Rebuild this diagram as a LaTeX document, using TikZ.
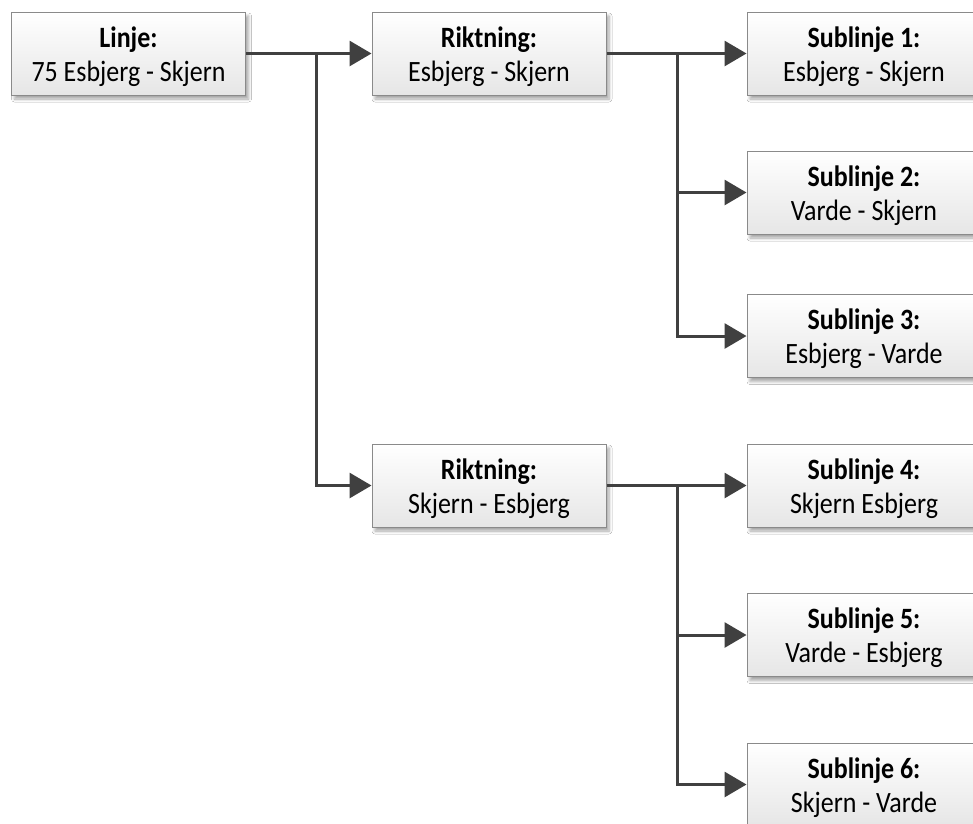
\documentclass[tikz,border=0pt]{standalone}
\usepackage{fontspec}
\setmainfont{Carlito}[FakeStretch=0.88]
\usetikzlibrary{arrows.meta,shadows.blur}
\definecolor{linegray}{HTML}{404040}
\definecolor{boxedge}{HTML}{8A8A8A}
\definecolor{boxbottom}{HTML}{E6E6E6}
\tikzset{
  box/.style={draw=boxedge, line width=1pt, top color=white, bottom color=boxbottom,
    minimum width=234pt, minimum height=83pt, inner sep=0pt, align=center,
    text height=62pt, text depth=7pt,
    font=\fontsize{29.5}{34}\selectfont,
    blur shadow={shadow xshift=3pt, shadow yshift=-4pt, shadow blur steps=6,
      shadow blur radius=3pt, shadow opacity=35}},
  conn/.style={draw=linegray, line width=3pt, -{Triangle[length=22pt,width=25pt]}}
}
\begin{document}
\begin{tikzpicture}[x=1pt,y=-1pt]
  \useasboundingbox (0,0) rectangle (973,823);
  \fill[white] (0,0) rectangle (973,823);

  % line
  \node[box] (L) at (128.5,53.5) {\textbf{Linje:}\\75 Esbjerg - Skjern};
  % directions
  \node[box] (R1) at (489,53.5) {\textbf{Riktning:}\\Esbjerg - Skjern};
  \node[box] (R2) at (489,485.5) {\textbf{Riktning:}\\Skjern - Esbjerg};
  % sublines
  \node[box] (S1) at (864,53.5)  {\textbf{Sublinje 1:}\\Esbjerg - Skjern};
  \node[box] (S2) at (864,192.5) {\textbf{Sublinje 2:}\\Varde - Skjern};
  \node[box] (S3) at (864,336)   {\textbf{Sublinje 3:}\\Esbjerg - Varde};
  \node[box] (S4) at (864,485.5) {\textbf{Sublinje 4:}\\Skjern Esbjerg};
  \node[box] (S5) at (864,635)   {\textbf{Sublinje 5:}\\Varde - Esbjerg};
  \node[box] (S6) at (864,784.5) {\textbf{Sublinje 6:}\\Skjern - Varde};

  % branch points
  \coordinate (j0) at (316,53.5);
  \coordinate (j1) at (677,53.5);
  \coordinate (j2) at (677,485.5);

  % connectors from the line
  \draw[conn] (L.east) -- (R1.west);
  \draw[conn] (j0) |- (R2.west);

  % connectors from the first direction
  \draw[conn] (R1.east) -- (S1.west);
  \draw[conn] (j1) |- (S2.west);
  \draw[conn] (j1) |- (S3.west);

  % connectors from the second direction
  \draw[conn] (R2.east) -- (S4.west);
  \draw[conn] (j2) |- (S5.west);
  \draw[conn] (j2) |- (S6.west);
\end{tikzpicture}
\end{document}
